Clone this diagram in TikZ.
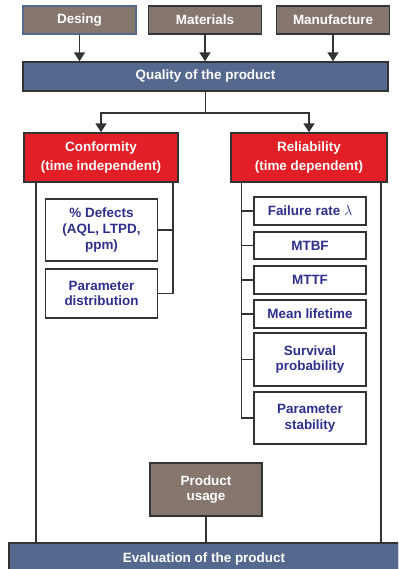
\documentclass[tikz,border=0pt]{standalone}
\usepackage{fontspec}
\setmainfont{Liberation Sans}
\usetikzlibrary{arrows.meta}

\definecolor{boxbrown}{RGB}{133,119,110}
\definecolor{barblue}{RGB}{85,105,143}
\definecolor{boxred}{RGB}{226,30,38}
\definecolor{textnavy}{RGB}{46,48,140}
\definecolor{linegrey}{RGB}{51,51,51}

\tikzset{
  base/.style={shape=rectangle,draw=linegrey,line width=1.4bp,align=center,inner sep=0pt,
    font=\fontsize{13.5}{15.7}\selectfont\bfseries},
  source/.style={base,fill=boxbrown,text=white,minimum width=113bp,minimum height=28bp},
  bar/.style={base,fill=barblue,text=white,minimum height=29bp},
  branch/.style={base,fill=boxred,text=white,minimum height=49bp,
    font=\fontsize{13.5}{19}\selectfont\bfseries},
  item/.style={base,fill=white,text=textnavy,minimum width=112bp},
  link/.style={draw=linegrey,line width=1.6bp},
  arr/.style={link,-{Triangle[width=11bp,length=9bp]}}
}

\begin{document}
\begin{tikzpicture}[x=1bp,y=-1bp]
\useasboundingbox (0,0) rectangle (398,569);
\clip (0,0) rectangle (398,569);

\node[source,draw=barblue] (desing) at (79.5,20) {Desing};
\node[source] (materials) at (205,20) {Materials};
\node[source] (manufacture) at (333,20) {Manufacture};
\node[bar,minimum width=365bp] (quality) at (205.5,76.5) {Quality of the product};

\node[branch,minimum width=154bp] (conformity) at (101,157.5) {Conformity\\(time independent)};
\node[branch,minimum width=156bp] (reliability) at (309,157.5) {Reliability\\(time dependent)};

\node[item,minimum height=62bp] (defects) at (101.5,230) {\% Defects\\(AQL, LTPD,\\ppm)};
\node[item,minimum height=49bp] (pardist) at (101.5,293.5) {Parameter\\distribution};

\node[item,minimum height=28bp] (failure) at (310,211) {Failure rate $\lambda$};
\node[item,minimum height=27bp] (mtbf) at (310,245.5) {MTBF};
\node[item,minimum height=28bp] (mttf) at (310,280) {MTTF};
\node[item,minimum height=28bp] (lifetime) at (310,314) {Mean lifetime};
\node[item,minimum height=53bp] (survival) at (310,359.5) {Survival\\probability};
\node[item,minimum height=52bp] (stability) at (310,418) {Parameter\\stability};

\node[source,minimum width=112bp,minimum height=53bp] (usage) at (206,489.5) {Product\\usage};
\node[bar,minimum width=390bp,minimum height=32bp] (evaluation) at (204,559) {Evaluation of the product};

% inputs
\draw[arr] (desing) -- (desing |- quality.north);
\draw[arr] (materials) -- (materials |- quality.north);
\draw[arr] (manufacture) -- (manufacture |- quality.north);

% split
\coordinate (split) at (quality.south |- 0,113);
\draw[link] (quality) -- (split);
\draw[arr] (split) -| (conformity);
\draw[arr] (split) -| (reliability);

% conformity
\coordinate (confl) at ([xshift=13bp]conformity.south west);
\coordinate (confr) at ([xshift=-6bp]conformity.south east);
\draw[link] (confl) -- (confl |- evaluation.north);
\draw[link] (confr) |- (pardist);
\draw[link] (defects) -- (defects -| confr);

% reliability
\coordinate (rell) at ([xshift=11bp]reliability.south west);
\coordinate (relr) at ([xshift=-7bp]reliability.south east);
\draw[link] (rell) |- (stability);
\foreach \n in {failure,mtbf,mttf,lifetime,survival}
  \draw[link] (\n) -- (\n -| rell);
\draw[link] (relr) -- (relr |- evaluation.north);

% usage
\draw[link] (usage) -- (usage |- evaluation.north);
\end{tikzpicture}
\end{document}
